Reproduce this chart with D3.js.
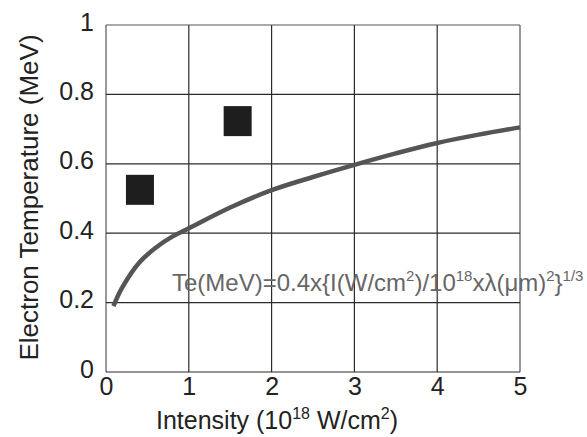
<!DOCTYPE html>
<html>
<head>
<meta charset="utf-8">
<script src="https://cdn.jsdelivr.net/npm/d3@7"></script>
<style>
  body { margin: 0; background: #fff; }
  svg { font-family: "Liberation Sans", Arial, sans-serif; }
</style>
</head>
<body>
<svg id="svg01" width="587" height="437"></svg>
<script>
// fitted curve
const curveI = [0.09, 0.19, 0.4, 0.6, 0.8, 1.0, 1.5, 2.0, 2.5, 3.0, 3.5, 4.0, 4.5, 5.0]
const curveT = [0.19, 0.241, 0.315, 0.358, 0.39, 0.414, 0.474, 0.524, 0.562, 0.597, 0.63, 0.66, 0.684, 0.705]

// measured points (squares)
const pointI = [0.41, 1.59]
const pointT = [0.525, 0.723]

const xTicks = [0, 1, 2, 3, 4, 5]
const yTicks = [0, 0.2, 0.4, 0.6, 0.8, 1]

const margin = {top: 25, right: 67, bottom: 65, left: 106}
const width = 587, height = 437

const x = d3.scaleLinear()
    .domain([0, 5])
    .range([margin.left, width - margin.right])

const y = d3.scaleLinear()
    .domain([0, 1])
    .range([height - margin.bottom, margin.top])

const svg = d3.select("#svg01")

// grid
const grid = svg.append("g").attr("stroke-width", 1.2)
grid.selectAll(".vx").data(xTicks).join("line")
    .attr("x1", d => x(d)).attr("x2", d => x(d))
    .attr("y1", y(0)).attr("y2", y(1))
    .attr("stroke", d => (d === 0 || d === 5) ? "#555" : "#2a2a2a")
grid.selectAll(".hy").data(yTicks).join("line")
    .attr("x1", x(0)).attr("x2", x(5))
    .attr("y1", d => y(d)).attr("y2", d => y(d))
    .attr("stroke", d => d === 1 ? "#555" : "#2a2a2a")

const xAxis = g => g
    .attr("transform", `translate(0,${y(0)})`)
    .call(d3.axisBottom(x).tickValues(xTicks).tickSize(0).tickPadding(5).tickFormat(d3.format("d")))
    .call(g => g.select(".domain").remove())

const yAxis = g => g
    .attr("transform", `translate(${x(0)},0)`)
    .call(d3.axisLeft(y).tickValues(yTicks).tickSize(0).tickPadding(12).tickFormat(d => d === 0 || d === 1 ? d : d3.format(".1f")(d)))
    .call(g => g.select(".domain").remove())

svg.append("g").call(xAxis)
    .selectAll("text").attr("font-size", 25).attr("fill", "#222")
    .attr("font-family", "Liberation Sans, Arial, sans-serif")
svg.append("g").call(yAxis)
    .selectAll("text").attr("font-size", 25).attr("fill", "#222")
    .attr("dy", "0.2em")
    .attr("font-family", "Liberation Sans, Arial, sans-serif")

// curve
const line = d3.line()
    .x(d => x(d[0]))
    .y(d => y(d[1]))
    .curve(d3.curveCatmullRom)

svg.append("path")
    .attr("d", line(d3.zip(curveI, curveT)))
    .attr("fill", "none")
    .attr("stroke", "#555")
    .attr("stroke-width", 4.5)

// squares
svg.selectAll(".pt").data(d3.zip(pointI, pointT)).join("rect")
    .attr("x", d => x(d[0]) - 14)
    .attr("y", d => y(d[1]) - 15)
    .attr("width", 28)
    .attr("height", 30)
    .attr("fill", "#1e1e1e")

// formula
const f = svg.append("text")
    .attr("x", 172).attr("y", 291)
    .attr("font-size", 24).attr("fill", "#666")
f.append("tspan").text("Te(MeV)=0.4x{I(W/cm")
f.append("tspan").text("2").attr("font-size", 15).attr("dy", -10)
f.append("tspan").text(")/10").attr("dy", 10)
f.append("tspan").text("18").attr("font-size", 15).attr("dy", -10)
f.append("tspan").text("xλ(μm)").attr("dy", 10)
f.append("tspan").text("2").attr("font-size", 15).attr("dy", -10)
f.append("tspan").text("}").attr("dy", 10)
f.append("tspan").text("1/3").attr("font-size", 15).attr("dy", -10)

// x title
const xt = svg.append("text")
    .attr("x", 277).attr("y", 429)
    .attr("text-anchor", "middle")
    .attr("font-size", 25).attr("fill", "#222")
xt.append("tspan").text("Intensity (10")
xt.append("tspan").text("18").attr("font-size", 16).attr("dy", -10)
xt.append("tspan").text(" W/cm").attr("dy", 10)
xt.append("tspan").text("2").attr("font-size", 16).attr("dy", -10)
xt.append("tspan").text(")").attr("dy", 10)

// y title
svg.append("text")
    .attr("transform", `translate(38,${(30 + 365) / 2}) rotate(-90)`)
    .attr("text-anchor", "middle")
    .attr("font-size", 26).attr("fill", "#222")
    .text("Electron Temperature (MeV)")
</script>
</body>
</html>
